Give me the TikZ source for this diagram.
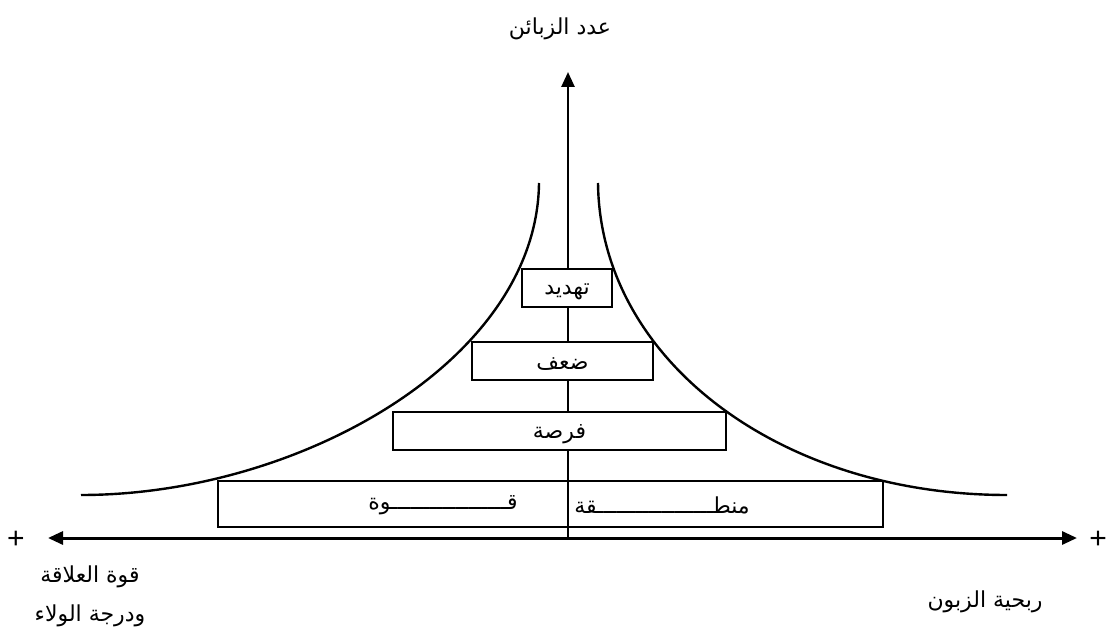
\documentclass[tikz,border=0pt]{standalone}
\usepackage{fontspec}
\setmainfont{Liberation Sans}
\newfontfamily\arabicfont[Script=Arabic]{DejaVu Sans}
\TeXXeTstate=1
\usetikzlibrary{arrows.meta}
\newcommand{\artxt}[1]{{\arabicfont\beginR #1\endR}}
\tikzset{
  lbl/.style={inner sep=0pt, font=\fontsize{22}{26}\selectfont},
  boxlbl/.style={lbl, yshift=-3.5pt},
  plusmark/.style={inner sep=0pt, font=\fontsize{30}{34}\selectfont},
  boxnode/.style={draw, line width=1.6pt, fill=white, inner sep=0pt},
  axis/.style={line width=3pt, -{Triangle[length=15pt,width=13pt]}},
  curve/.style={line width=2.4pt},
}
\begin{document}
\begin{tikzpicture}[x=1pt,y=-1pt]
\useasboundingbox[fill=white] (0,0) rectangle (1106,631);
% axes
\coordinate (yb) at (568,538);
\coordinate (yt) at (568,72);
\coordinate (xl) at (48,538);
\coordinate (xr) at (1077,538);
\coordinate (xm) at (568,538);
\draw[axis, line width=2.6pt] (yb) -- (yt);
\draw[axis] (xm) -- (xl);
\draw[axis] (xm) -- (xr);
% curves
\coordinate (lt) at (539,183);
\coordinate (lb) at (81,495);
\coordinate (rt) at (598,183);
\coordinate (rb) at (1007,495);
\draw[curve] (lt) .. controls (537,360) and (300,495) .. (lb);
\draw[curve] (rt) .. controls (600,360) and (780,495) .. (rb);
% boxes
\node[boxnode, minimum width=90pt, minimum height=38pt] (tahdid) at (567,288) {};
\node[boxlbl] (tahdidtxt) at (tahdid) {\artxt{تهديد}};
\node[boxnode, minimum width=181pt, minimum height=38pt] (daf) at (562.5,361) {};
\node[boxlbl] (daftxt) at (daf) {\artxt{ضعف}};
\node[boxnode, minimum width=333pt, minimum height=38pt] (fursa) at (559.5,431) {};
\node[boxlbl] (fursatxt) at (fursa) {\artxt{فرصة}};
\node[draw, line width=1.6pt, inner sep=0pt, minimum width=665pt, minimum height=46pt] (mintaqa) at (550.5,504) {};
\node[lbl] (quwwa) at (443,505) {\artxt{قــــــــــــــــــوة}};
\node[lbl] (mntq) at (662,505) {\artxt{منطــــــــــــــــــقة}};
% labels
\node[lbl] (ylab) at (560,28.5) {\artxt{عدد الزبائن}};
\node[plusmark] (plusl) at (16,540) {+};
\node[plusmark] (plusr) at (1098,540) {+};
\node[lbl] (xlab1) at (90,576.5) {\artxt{قوة العلاقة}};
\node[lbl] (xlab2) at (90,615.5) {\artxt{ودرجة الولاء}};
\node[lbl] (xlabr) at (985,601.5) {\artxt{ربحية الزبون}};
\end{tikzpicture}
\end{document}
